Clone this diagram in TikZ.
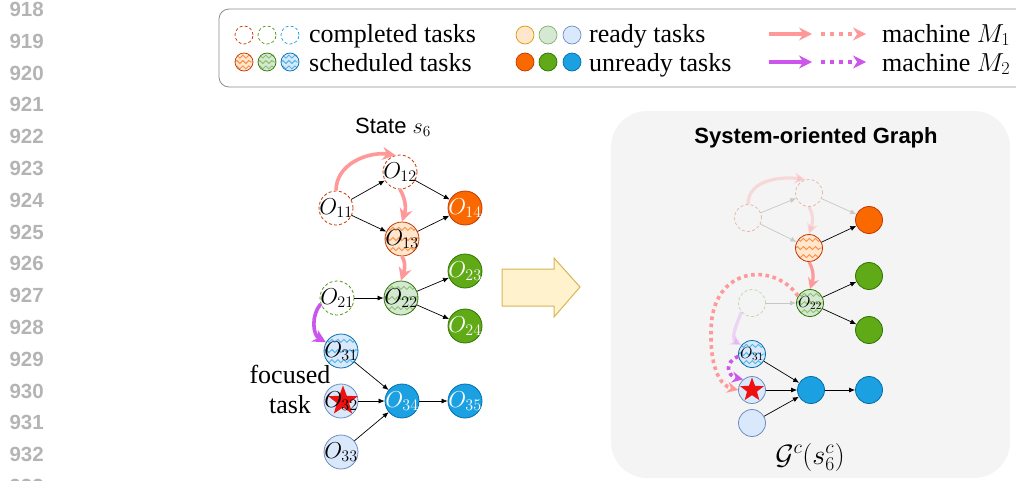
\documentclass[tikz,border=0pt]{standalone}
\usepackage{fix-cm}
\usepackage{fontspec}
\setmainfont{Liberation Serif}
\setsansfont{Liberation Sans}
\usetikzlibrary{arrows.meta,shapes.geometric,decorations.pathmorphing,calc}

% palette
\definecolor{orD}{HTML}{C73500}
\definecolor{orF}{HTML}{FA6800}
\definecolor{orL}{HTML}{FFE6CC}
\definecolor{orR}{HTML}{D79B00}
\definecolor{orW}{HTML}{F7924A}
\definecolor{grD}{HTML}{2D7600}
\definecolor{grF}{HTML}{60A917}
\definecolor{grL}{HTML}{D5E8D4}
\definecolor{grR}{HTML}{82B366}
\definecolor{grW}{HTML}{8DC26A}
\definecolor{blD}{HTML}{006EAF}
\definecolor{blF}{HTML}{1BA1E2}
\definecolor{blL}{HTML}{DAE8FC}
\definecolor{blR}{HTML}{6C8EBF}
\definecolor{blW}{HTML}{4FB6EA}
\definecolor{mOne}{HTML}{FF9999}
\definecolor{mTwo}{HTML}{CC55EE}
\definecolor{panel}{HTML}{F4F4F4}
\definecolor{lnum}{HTML}{B4B4B4}
\definecolor{arrF}{HTML}{FFF2CC}
\definecolor{arrD}{HTML}{D6B656}
\definecolor{starR}{HTML}{EE1111}

% task label that may spill over its circle without enlarging it
\newcommand{\tlab}[1]{\makebox[0pt]{$#1$}}

\tikzset{
  wavy/.style={path picture={
    \foreach \f in {0.2,0.5,0.8}{
      \draw[#1, line width=0.9pt, decorate,
            decoration={snake, amplitude=1.5pt, segment length=6pt}]
        ($(path picture bounding box.south west)!\f!(path picture bounding box.north west)$) --
        ($(path picture bounding box.south east)!\f!(path picture bounding box.north east)$);
    }}},
  task/.style={circle, inner sep=0pt, minimum size=34pt, line width=0.8pt,
               font=\fontsize{23}{24}\selectfont},
  small/.style={minimum size=27pt, font=\fontsize{16}{17}\selectfont},
  legc/.style={minimum size=18pt, line width=0.7pt},
  dashring/.style={dash pattern=on 3pt off 2.2pt},
  doneO/.style={task, draw=orD, dashring},
  doneG/.style={task, draw=grF!70!grD, dashring},
  doneB/.style={task, draw=blF, dashring},
  schedO/.style={task, draw=orD, fill=orL, wavy=orW},
  schedG/.style={task, draw=grD, fill=grL, wavy=grW},
  schedB/.style={task, draw=blD, fill=blL, wavy=blW},
  readyO/.style={task, draw=orR, fill=orL},
  readyG/.style={task, draw=grR, fill=grL},
  readyB/.style={task, draw=blR, fill=blL},
  unrO/.style={task, draw=orD, fill=orF, text=white},
  unrG/.style={task, draw=grD, fill=grF, text=white},
  unrB/.style={task, draw=blD, fill=blF, text=white},
  fade/.style={opacity=0.3},
  edge/.style={draw=black, line width=0.7pt, -{Latex[length=6pt,width=5pt]}},
  greyedge/.style={draw=black!22, line width=0.7pt, -{Latex[length=6pt,width=5pt]}},
  m1/.style={draw=mOne, line width=3.6pt, -{Stealth[length=13pt,width=13pt]}},
  m2/.style={draw=mTwo, line width=3.6pt, -{Stealth[length=13pt,width=13pt]}},
  m1s/.style={draw=mOne, line width=3.2pt, -{Stealth[length=11pt,width=11pt]}},
  m2s/.style={draw=mTwo, line width=3.2pt, -{Stealth[length=11pt,width=11pt]}},
  m1dot/.style={m1, dash pattern=on 4pt off 5pt},
  m2dot/.style={m2, dash pattern=on 4pt off 5pt},
  m1sdot/.style={m1s, line width=3.6pt, dash pattern=on 3.6pt off 3.6pt},
  m2sdot/.style={m2s, line width=3.6pt, dash pattern=on 3.6pt off 3.6pt},
  focus/.style={star, star points=5, star point ratio=2.4, fill=starR,
                draw=none, inner sep=0pt},
  lnumber/.style={font=\sffamily\bfseries\fontsize{20.5}{20.5}\selectfont,
                  text=lnum, anchor=east, inner sep=0pt},
  legtext/.style={anchor=base west, inner sep=0pt}
}

\begin{document}
\begin{tikzpicture}[x=1pt, y=1pt, font=\fontsize{26}{26}\selectfont]
\useasboundingbox (0,0) rectangle (1016,-480);
\clip (0,0) rectangle (1016,-480);

% line numbers in the margin
\foreach \n [count=\k from 0] in {918,...,933}
  \node[lnumber] (ln\n) at (44,{-9.5-31.8*\k}) {\n};

% legend frame
\draw[black!45, line width=0.8pt, rounded corners=10pt] (219,-9) rectangle (1030,-87);

% legend: task states
\node[doneO, legc] (lc1) at (244,-35) {};
\node[doneG, legc] (lc2) at (267,-35) {};
\node[doneB, legc] (lc3) at (290,-35) {};
\node[schedO, legc] (lc4) at (244,-62) {};
\node[schedG, legc] (lc5) at (267,-62) {};
\node[schedB, legc] (lc6) at (290,-62) {};
\node[legtext] (lt1) at (309,-42) {completed tasks};
\node[legtext] (lt2) at (309,-71) {scheduled tasks};

\node[readyO, legc] (lc7) at (525,-35) {};
\node[readyG, legc] (lc8) at (548,-35) {};
\node[readyB, legc] (lc9) at (572,-35) {};
\node[unrO, legc] (lc10) at (525,-62) {};
\node[unrG, legc] (lc11) at (548,-62) {};
\node[unrB, legc] (lc12) at (572,-62) {};
\node[legtext] (lt3) at (589,-42) {ready tasks};
\node[legtext] (lt4) at (589,-71) {unready tasks};

% legend: machines
\coordinate (la1) at (769,-34);  \coordinate (la2) at (812,-34);
\coordinate (la3) at (821,-34);  \coordinate (la4) at (866,-34);
\coordinate (lb1) at (769,-62);  \coordinate (lb2) at (812,-62);
\coordinate (lb3) at (821,-62);  \coordinate (lb4) at (866,-62);
\draw[m1] (la1) -- (la2);
\draw[m1dot] (la3) -- (la4);
\draw[m2] (lb1) -- (lb2);
\draw[m2dot] (lb3) -- (lb4);
\node[legtext] (lt5) at (882,-42) {machine $M_1$};
\node[legtext] (lt6) at (882,-71) {machine $M_2$};

% ---------------- state s6 ----------------
\node[font=\sffamily\fontsize{22}{22}\selectfont, anchor=base] (stt) at (393,-133) {State $s_6$};

\node[doneO]  (o11) at (336,-208) {\tlab{O_{11}}};
\node[doneO]  (o12) at (400,-172) {\tlab{O_{12}}};
\node[schedO] (o13) at (402,-239) {\tlab{O_{13}}};
\node[unrO]   (o14) at (465,-208) {\tlab{O_{14}}};
\node[doneG]  (o21) at (337,-298) {\tlab{O_{21}}};
\node[schedG] (o22) at (401,-298) {\tlab{O_{22}}};
\node[unrG]   (o23) at (465,-271) {\tlab{O_{23}}};
\node[unrG]   (o24) at (465,-326) {\tlab{O_{24}}};
\node[schedB] (o31) at (341,-351) {\tlab{O_{31}}};
\node[readyB] (o32) at (341,-401) {};
\node[readyB] (o33) at (341,-452) {\tlab{O_{33}}};
\node[unrB]   (o34) at (402,-401) {\tlab{O_{34}}};
\node[unrB]   (o35) at (465,-401) {\tlab{O_{35}}};
\node[focus, minimum size=31pt] (fs1) at (343,-401) {};
\node[font=\fontsize{23}{24}\selectfont, inner sep=0pt] (o32t) at (o32) {\tlab{O_{32}}};

\draw[edge] (o11) -- (o12);
\draw[edge] (o11) -- (o13);
\draw[edge] (o12) -- (o14);
\draw[edge] (o13) -- (o14);
\draw[edge] (o21) -- (o22);
\draw[edge] (o22) -- (o23);
\draw[edge] (o22) -- (o24);
\draw[edge] (o31) -- (o34);
\draw[edge] (o32) -- (o34);
\draw[edge] (o33) -- (o34);
\draw[edge] (o34) -- (o35);

\draw[m1] (o11.north) to[out=90,in=172] (o12.105);
\draw[m1] (o12.south) to[out=-60,in=72] (o13.north);
\draw[m1] (o13.south) to[out=-60,in=72] (o22.north);
\draw[m2] (o21.200) to[out=230,in=150] (o31.150);

\node[anchor=base] (ft1) at (290,-383) {focused};
\node[anchor=base] (ft2) at (290,-413) {task};

% transition arrow
\draw[fill=arrF, draw=arrD, line width=1pt, line join=miter]
  (502,-269) -- (554,-269) -- (554,-258) -- (580,-287) -- (554,-317)
  -- (554,-306) -- (502,-306) -- cycle;

% ---------------- system-oriented graph ----------------
\fill[panel, rounded corners=36pt] (611,-111) rectangle (1010,-478);
\node[font=\sffamily\bfseries\fontsize{22}{22}\selectfont, anchor=base] (sog) at (816,-143) {System-oriented Graph};

\node[doneO, small, fade] (p11) at (748,-218) {};
\node[doneO, small, fade] (p12) at (809,-193) {};
\node[schedO, small]      (p13) at (809,-248) {};
\node[unrO, small]        (p14) at (869,-220) {};
\node[doneG, small, fade] (p21) at (752,-303) {};
\node[schedG, small]      (p22) at (810,-303) {\tlab{O_{22}}};
\node[unrG, small]        (p23) at (869,-276) {};
\node[unrG, small]        (p24) at (869,-330) {};
\node[schedB, small]      (p31) at (752,-354) {\tlab{O_{31}}};
\node[readyB, small]      (p32) at (752,-390) {};
\node[readyB, small]      (p33) at (752,-423) {};
\node[unrB, small]        (p34) at (811,-390) {};
\node[unrB, small]        (p35) at (869,-390) {};
\node[focus, minimum size=25pt] (fs2) at (752,-390) {};

\draw[greyedge] (p11) -- (p12);
\draw[greyedge] (p11) -- (p13);
\draw[greyedge] (p12) -- (p14);
\draw[greyedge] (p21) -- (p22);
\draw[edge] (p13) -- (p14);
\draw[edge] (p22) -- (p23);
\draw[edge] (p22) -- (p24);
\draw[edge] (p31) -- (p34);
\draw[edge] (p32) -- (p34);
\draw[edge] (p33) -- (p34);
\draw[edge] (p34) -- (p35);

\draw[m1s, opacity=0.3] (p11.north) to[out=90,in=172] (p12.105);
\draw[m1s, opacity=0.3] (p12.south) to[out=-60,in=72] (p13.north);
\draw[m1s] (p13.south) to[out=-60,in=72] (p22.north);
\draw[m2s, opacity=0.2] (p21.220) to[out=250,in=150] (p31.140);

\draw[m1sdot] (p22.150) .. controls (775,-262) and (712,-265) .. (711,-330)
  .. controls (710,-372) and (722,-386) .. (p32.west);
\draw[m2sdot] (p31.190) .. controls (724,-362) and (727,-376) .. (p32.130);

\node[font=\fontsize{28}{28}\selectfont] (gcs) at (810,-457) {$\mathcal{G}^c(s^c_6)$};
\end{tikzpicture}
\end{document}
